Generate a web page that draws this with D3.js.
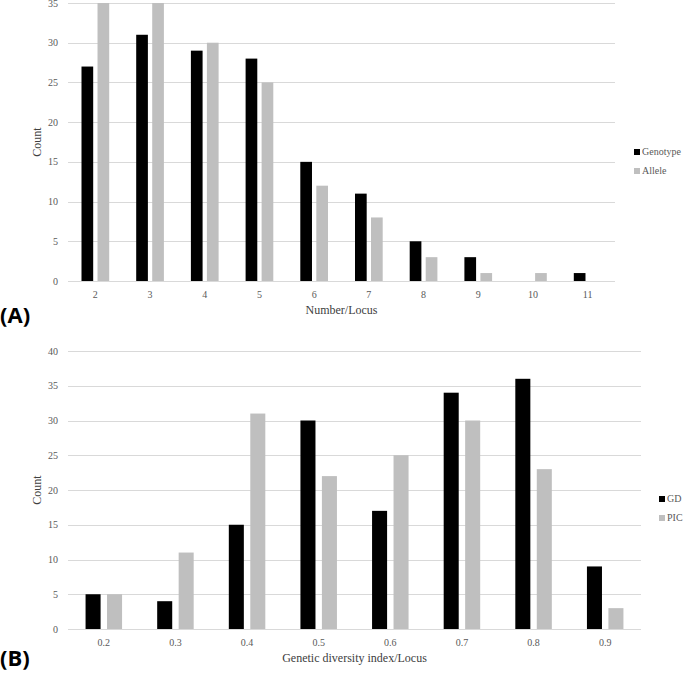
<!DOCTYPE html>
<html><head><meta charset="utf-8">
<script src="https://cdn.jsdelivr.net/npm/d3@7"></script>
<style>body{margin:0;background:#fff}svg{display:block}</style>
</head><body>
<script>
// ---- Data ----
const catsA = ["2","3","4","5","6","7","8","9","10","11"];
const genotype = [27, 31, 29, 28, 15, 11, 5, 3, 0, 1];
const allele   = [35, 35, 30, 25, 12, 8, 3, 1, 1, 0];
const seriesA = ["Genotype", "Allele"];
const yTicksA = [0, 5, 10, 15, 20, 25, 30, 35];

const catsB = ["0.2","0.3","0.4","0.5","0.6","0.7","0.8","0.9"];
const gd  = [5, 4, 15, 30, 17, 34, 36, 9];
const pic = [5, 11, 31, 22, 25, 30, 23, 3];
const seriesB = ["GD", "PIC"];
const yTicksB = [0, 5, 10, 15, 20, 25, 30, 35, 40];

const colors = ["#000000", "#bfbfbf"];

const svg = d3.select("body").append("svg").attr("width", 685).attr("height", 675);

function panel(o) {
  const g = svg.append("g");
  const x = d3.scaleBand().domain(o.cats).range([o.left, o.right]).padding(0);
  const y = d3.scaleLinear().domain([0, o.ymax]).range([o.bottom, o.top]);
  // gridlines
  g.selectAll("line.grid").data(o.yticks).join("line")
    .attr("x1", o.left).attr("x2", o.right)
    .attr("y1", d => Math.round(y(d)) + 0.5).attr("y2", d => Math.round(y(d)) + 0.5)
    .attr("stroke", "#d9d9d9").attr("stroke-width", 1);
  // y tick labels
  g.selectAll("text.yt").data(o.yticks).join("text")
    .attr("x", o.left - 10).attr("y", d => y(d) + 3.5)
    .attr("text-anchor", "end").attr("font-family", "Liberation Serif").attr("font-size", 10)
    .attr("fill", "#595959").text(d => d);
  // bars
  const sub = d3.scaleBand().domain(o.series).range([0, o.pairW]).paddingInner(o.pin).paddingOuter(0);
  o.values.forEach((vals, si) => {
    g.selectAll("rect.s" + si).data(vals).join("rect")
      .attr("x", (d, i) => x(o.cats[i]) + x.bandwidth() / 2 - o.pairW / 2 + sub(o.series[si]))
      .attr("width", sub.bandwidth())
      .attr("y", d => y(d)).attr("height", d => y(0) - y(d))
      .attr("fill", colors[si]);
  });
  // x tick labels
  g.selectAll("text.xt").data(o.cats).join("text")
    .attr("x", d => x(d) + x.bandwidth() / 2).attr("y", o.bottom + 17)
    .attr("text-anchor", "middle").attr("font-family", "Liberation Serif").attr("font-size", 10)
    .attr("fill", "#595959").text(d => d);
  // x title
  g.append("text").attr("x", (o.left + o.right) / 2).attr("y", o.bottom + 33)
    .attr("text-anchor", "middle").attr("font-family", "Liberation Serif").attr("font-size", 12)
    .attr("fill", "#404040").text(o.xtitle);
  // y title
  g.append("text").attr("transform", `translate(41,${(o.top + o.bottom) / 2}) rotate(-90)`)
    .attr("text-anchor", "middle").attr("font-family", "Liberation Serif").attr("font-size", 12)
    .attr("fill", "#404040").text("Count");
  // legend
  o.series.forEach((s, i) => {
    const ly = o.legY + i * 19;
    g.append("rect").attr("x", o.legX).attr("y", ly - 6).attr("width", 6).attr("height", 6).attr("fill", colors[i]);
    g.append("text").attr("x", o.legX + 8).attr("y", ly).attr("font-family", "Liberation Serif")
      .attr("font-size", 10).attr("fill", "#595959").text(s);
  });
  // panel label
  g.append("text").attr("x", 0).attr("y", o.labY).attr("font-family", "Open Sans, Liberation Sans, sans-serif")
    .attr("font-weight", "bold").attr("font-size", 22).attr("fill", "#000").text(o.label);
}

panel({cats: catsA, series: seriesA, values: [genotype, allele], yticks: yTicksA, ymax: 35,
  left: 68, right: 615, top: 3, bottom: 281, pairW: 27.7, pin: 0.27,
  xtitle: "Number/Locus", legX: 634, legY: 155, label: "(A)", labY: 323});

panel({cats: catsB, series: seriesB, values: [gd, pic], yticks: yTicksB, ymax: 40,
  left: 68, right: 641, top: 351, bottom: 629, pairW: 36.5, pin: 0.3,
  xtitle: "Genetic diversity index/Locus", legX: 659, legY: 502, label: "(B)", labY: 666});
</script>
</body></html>
